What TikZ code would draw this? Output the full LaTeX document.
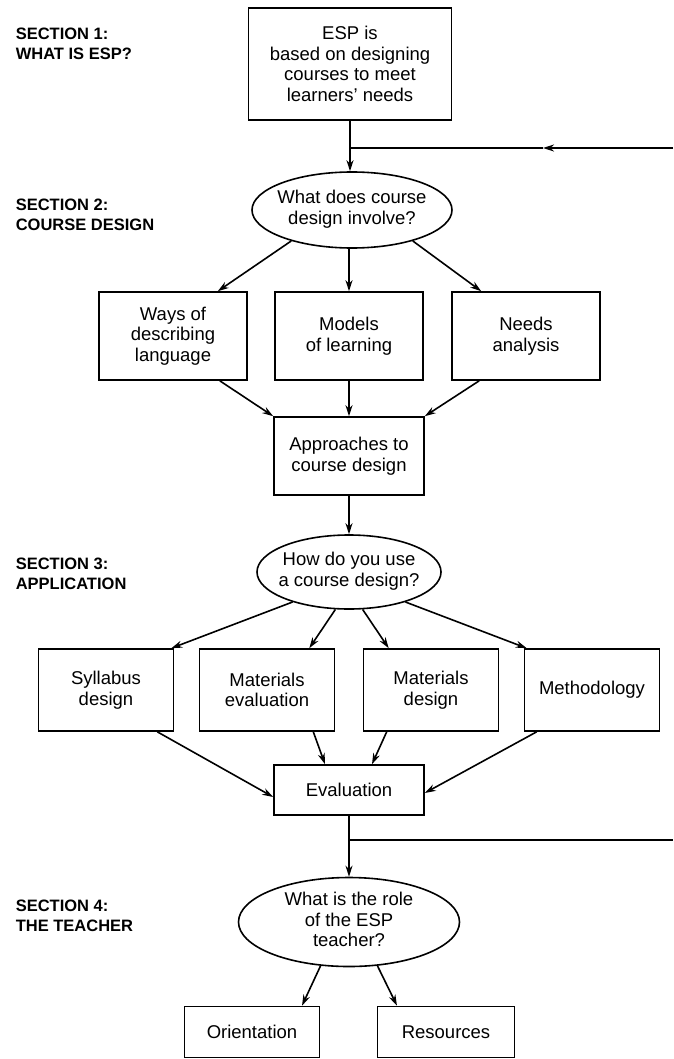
\documentclass[tikz,border=0pt]{standalone}
\usepackage{fontspec}
\setmainfont{Liberation Sans}
\usetikzlibrary{shapes.geometric,arrows.meta}

\newcommand\ovaltext[1]{\makebox[0pt]{\begin{tabular}{@{}c@{}}#1\end{tabular}}}

\begin{document}
\begin{tikzpicture}[x=1pt,y=-1pt,line width=1.6pt,>={Stealth[length=11pt,width=7pt]},
  box/.style={draw,align=center,inner sep=2pt,font=\fontsize{18.5}{20.5}\selectfont},
  oval/.style={draw,ellipse,inner sep=0pt,font=\fontsize{18.5}{20.5}\selectfont},
  section/.style={anchor=north west,align=left,inner sep=0pt,font=\fontsize{16.5}{20.5}\selectfont\bfseries}]

  \useasboundingbox (0,0) rectangle (673,1059);

  % section titles
  \node[section] (s1) at (15,27)  {SECTION 1:\\WHAT IS ESP?};
  \node[section] (s2) at (15,198) {SECTION 2:\\COURSE DESIGN};
  \node[section] (s3) at (15,557) {SECTION 3:\\APPLICATION};
  \node[section] (s4) at (15,899) {SECTION 4:\\THE TEACHER};

  % section 1
  \node[box,minimum width=203pt,minimum height=112pt] (esp) at (350,64)
      {ESP is\\based on designing\\courses to meet\\learners' needs};
  \coordinate (j1) at (350,148);
  \coordinate (fb1) at (673,148);
  \coordinate (fb1m) at (543,148);

  % section 2
  \node[oval,minimum width=200pt,minimum height=76pt] (e2) at (352,210)
      {\ovaltext{What does course\\design involve?}};
  \node[box,minimum width=148pt,minimum height=88pt] (ways) at (173,336)
      {Ways of\\describing\\language};
  \node[box,minimum width=148pt,minimum height=88pt] (models) at (349,336)
      {Models\\of learning};
  \node[box,minimum width=148pt,minimum height=88pt] (needs) at (526,336)
      {Needs\\analysis};
  \node[box,minimum width=150pt,minimum height=78pt] (approach) at (349,456)
      {Approaches to\\course design};

  % section 3
  \node[oval,minimum width=184pt,minimum height=74pt] (e3) at (349,572)
      {\ovaltext{How do you use\\a course design?}};
  \node[box,minimum width=135pt,minimum height=82pt] (syll) at (106,690)
      {Syllabus\\design};
  \node[box,minimum width=135pt,minimum height=82pt] (mateval) at (267,690)
      {Materials\\evaluation};
  \node[box,minimum width=135pt,minimum height=82pt] (matdes) at (431,690)
      {Materials\\design};
  \node[box,minimum width=135pt,minimum height=82pt] (method) at (592,690)
      {Methodology};
  \node[box,minimum width=150pt,minimum height=50pt] (eval) at (349,790)
      {Evaluation};
  \coordinate (j2) at (349,840);
  \coordinate (fb2) at (673,840);

  % section 4
  \node[oval,minimum width=221pt,minimum height=89pt] (e4) at (349,922)
      {\ovaltext{What is the role\\of the ESP\\teacher?}};
  \node[box,minimum width=135pt,minimum height=51pt] (orient) at (252,1032)
      {Orientation};
  \node[box,minimum width=137pt,minimum height=51pt] (res) at (446,1032)
      {Resources};

  % connectors
  \draw (esp) -- (j1);
  \draw[->] (j1) -- (j1 |- e2.north);
  \draw[->] (fb1) -- (fb1m);
  \draw (fb1m) -- (j1);

  \draw[->] (e2.207) -- ([xshift=-30pt]ways.north east);
  \draw[->] (e2.south -| models) -- (models);
  \draw[->] (e2.333) -- ([xshift=30pt]needs.north west);
  \draw[->] ([xshift=-28pt]ways.south east) -- (approach.north west);
  \draw[->] (models) -- (approach);
  \draw[->] ([xshift=28pt]needs.south west) -- (approach.north east);
  \draw[->] (approach) -- (e3);

  \draw[->] (e3.208) -- ([xshift=-3pt]syll.north east);
  \draw[->] (e3.250) -- ([xshift=-26pt]mateval.north east);
  \draw[->] (e3.290) -- ([xshift=26pt]matdes.north west);
  \draw[->] (e3.332) -- ([xshift=3pt]method.north west);
  \draw[->] ([xshift=-17pt]syll.south east) -- ([yshift=-7pt]eval.west);
  \draw[->] ([xshift=-22pt]mateval.south east) -- ([xshift=-24pt]eval.north);
  \draw[->] ([xshift=24pt]matdes.south west) -- ([xshift=23pt]eval.north);
  \draw[->] ([xshift=13pt]method.south west) -- ([yshift=-3pt]eval.east);

  \draw (eval) -- (j2);
  \draw (j2) -- (fb2);
  \draw[->] (j2) -- (e4);
  \draw[->] (e4.237) -- ([xshift=50pt]orient.north);
  \draw[->] (e4.303) -- ([xshift=-49pt]res.north);

\end{tikzpicture}
\end{document}
